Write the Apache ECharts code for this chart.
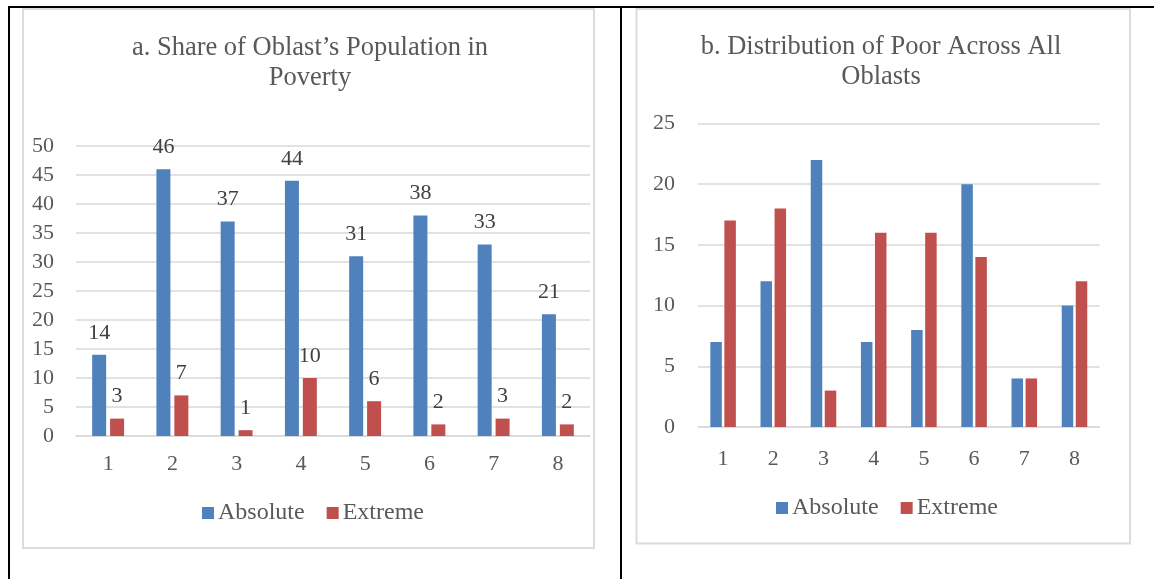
<!DOCTYPE html>
<html>
<head>
<meta charset="utf-8">
<title>Oblast poverty</title>
<script src="https://cdn.jsdelivr.net/npm/echarts@6/dist/echarts.min.js"></script>
<style>
  html, body { margin: 0; padding: 0; background: #ffffff; }
  #chart { width: 1154px; height: 579px; }
</style>
</head>
<body>
<div id="chart"></div>
<script>
// Oblast numbers (1–8)
const oblasts = ['1', '2', '3', '4', '5', '6', '7', '8'];

// Panel a: share of each oblast's population in poverty (%)
const shareAbsolute = [14, 46, 37, 44, 31, 38, 33, 21];
const shareExtreme = [3, 7, 1, 10, 6, 2, 3, 2];

// Panel b: distribution of the poor across all oblasts (%)
const distAbsolute = [7, 12, 22, 7, 8, 20, 4, 10];
const distExtreme = [17, 18, 3, 16, 16, 14, 4, 12];

const seriesNames = ['Absolute', 'Extreme'];

const BLUE = '#4F81BD';
const RED = '#C0504D';
const GRID = '#d9d9d9';
const TEXT = '#595959';
const FONT = '"Liberation Serif", "Times New Roman", serif';

const chart = echarts.init(document.getElementById('chart'), null, { renderer: 'canvas' });

const axisText = { color: TEXT, fontFamily: FONT, fontSize: 22 };

function xAxisFor(gridIndex, margin) {
  return {
    type: 'category', gridIndex, data: oblasts,
    axisLine: { lineStyle: { color: GRID, width: 1.5 } },
    axisTick: { show: false },
    axisLabel: Object.assign({ margin }, axisText)
  };
}
function yAxisFor(gridIndex, max, margin) {
  return {
    type: 'value', gridIndex, min: 0, max, interval: 5,
    axisLine: { show: false }, axisTick: { show: false },
    splitLine: { lineStyle: { color: GRID, width: 1.5 } },
    axisLabel: Object.assign({ margin }, axisText)
  };
}
function bar(name, data, axisIndex, color, width, gap, labels) {
  return {
    type: 'bar', name, data,
    xAxisIndex: axisIndex, yAxisIndex: axisIndex,
    barWidth: width, barGap: gap,
    itemStyle: { color },
    label: labels ? {
      show: true, position: 'top', distance: 11,
      color: '#404040', fontFamily: FONT, fontSize: 22
    } : { show: false },
    emphasis: { disabled: true }
  };
}

const legendCommon = {
  data: seriesNames, orient: 'horizontal', padding: 0,
  icon: 'rect', itemWidth: 12, itemHeight: 12, itemGap: 22,
  textStyle: { color: TEXT, fontFamily: FONT, fontSize: 24, padding: [0, 0, 0, -1] }
};

const titleText = { color: TEXT, fontFamily: FONT, fontSize: 26.5, fontWeight: 'normal', lineHeight: 30 };

chart.setOption({
  animation: false,
  backgroundColor: '#ffffff',
  color: [BLUE, RED],
  title: [
    {
      text: 'a. Share of Oblast’s Population in\nPoverty',
      left: 310, top: 33, textAlign: 'center', padding: 0,
      textStyle: titleText
    },
    {
      text: 'b. Distribution of Poor Across All\nOblasts',
      left: 881, top: 32, textAlign: 'center', padding: 0,
      textStyle: titleText
    }
  ],
  legend: [
    Object.assign({ left: 202, top: 501 }, legendCommon),
    Object.assign({ left: 776, top: 496 }, legendCommon)
  ],
  grid: [
    { left: 76, top: 146, width: 514, height: 290 },
    { left: 698, top: 123.5, width: 401.6, height: 303.5 }
  ],
  xAxis: [xAxisFor(0, 17), xAxisFor(1, 21)],
  yAxis: [yAxisFor(0, 50, 22), yAxisFor(1, 25, 23)],
  series: [
    bar(seriesNames[0], shareAbsolute, 0, BLUE, 14, '28%', true),
    bar(seriesNames[1], shareExtreme, 0, RED, 14, '28%', true),
    bar(seriesNames[0], distAbsolute, 1, BLUE, 11.5, '22%', false),
    bar(seriesNames[1], distExtreme, 1, RED, 11.5, '22%', false)
  ],
  graphic: [
    // panel frames
    { type: 'rect', silent: true, z: -1,
      shape: { x: 23, y: 9, width: 571, height: 539 },
      style: { fill: 'none', stroke: '#dcdcdc', lineWidth: 2 } },
    { type: 'rect', silent: true, z: -1,
      shape: { x: 636.5, y: 9, width: 493.5, height: 534.5 },
      style: { fill: 'none', stroke: '#dcdcdc', lineWidth: 2 } },
    // table rules
    { type: 'line', silent: true, z: 10,
      shape: { x1: 8, y1: 7, x2: 1154, y2: 7 },
      style: { stroke: '#000000', lineWidth: 2 } },
    { type: 'line', silent: true, z: 10,
      shape: { x1: 9, y1: 6, x2: 9, y2: 579 },
      style: { stroke: '#000000', lineWidth: 2 } },
    { type: 'line', silent: true, z: 10,
      shape: { x1: 621, y1: 6, x2: 621, y2: 579 },
      style: { stroke: '#000000', lineWidth: 2 } }
  ]
});
</script>
</body>
</html>
